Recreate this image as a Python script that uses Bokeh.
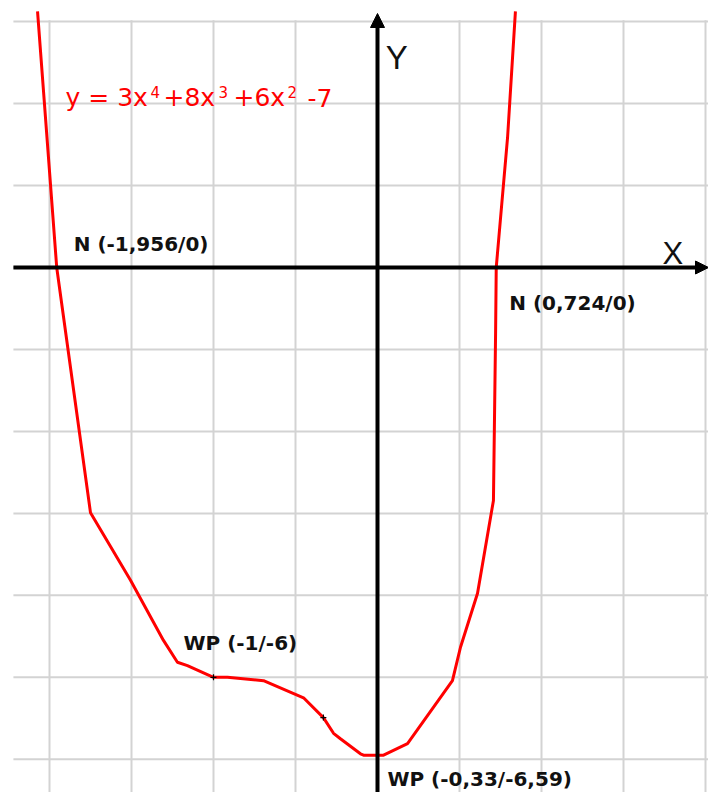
from bokeh.plotting import figure
from bokeh.models import Arrow, NormalHead, ColumnDataSource
from bokeh.core.properties import value
from bokeh.embed import file_html
from bokeh.resources import INLINE

# Curve y = 3x^4 + 8x^3 + 6x^2 - 7, as a polyline of points
curve_x = [-2.073, -1.956, -1.750, -1.506, -1.305, -1.220, -1.159, -1.0, -0.915,
           -0.695, -0.451, -0.33, -0.268, -0.226, -0.104, -0.085, 0.037, 0.183,
           0.457, 0.506, 0.610, 0.707, 0.720, 0.724, 0.793, 0.841]
curve_y = [3.75, 0.0, -3.59, -4.58, -5.46, -5.78, -5.83, -6.0, -6.00,
           -6.05, -6.30, -6.59, -6.82, -6.90, -7.12, -7.14, -7.14, -6.97,
           -6.05, -5.56, -4.77, -3.41, -0.97, 0.0, 1.90, 3.75]

# Zeros (N) and inflection points (WP)
root_x = [-1.956, 0.724]
root_y = [0.0, 0.0]
root_labels = ["N (-1,956/0)", "N (0,724/0)"]

wp_x = [-1.0, -0.33]
wp_y = [-6.0, -6.59]
wp_labels = ["WP (-1/-6)", "WP (-0,33/-6,59)"]

# Grid positions
grid_x = [-2.0, -1.5, -1.0, -0.5, 0.0, 0.5, 1.0, 1.5, 2.0]
grid_y = [3.6, 2.4, 1.2, 0.0, -1.2, -2.4, -3.6, -4.8, -6.0, -7.2]

# Formula pieces (normal text and superscripts)
formula_main = ["y = 3x", "+8x", "+6x", "-7"]
formula_sup = ["4", "3", "2"]

W, H = 708, 792
XU, YU = 164.0, 68.3          # pixels per unit
x_lo, x_hi = -377 / XU, (W - 377) / XU
y_lo, y_hi = -(H - 267) / YU, 267 / YU

p = figure(width=W, height=H, x_range=(x_lo, x_hi), y_range=(y_lo, y_hi),
           output_backend="svg", toolbar_location=None, min_border=0,
           background_fill_color="white", border_fill_color="white")
p.outline_line_color = None
p.xaxis.visible = False
p.yaxis.visible = False
p.xgrid.visible = False
p.ygrid.visible = False

grid_left = -2.22
grid_top = 3.62
grid_col = "#d3d3d3"
p.segment(x0=grid_x, y0=[grid_top] * len(grid_x), x1=grid_x, y1=[y_lo] * len(grid_x),
          line_color=grid_col, line_width=2)
p.segment(x0=[grid_left] * len(grid_y), y0=grid_y, x1=[x_hi] * len(grid_y), y1=grid_y,
          line_color=grid_col, line_width=2)

# Coordinate axes with arrow heads
p.add_layout(Arrow(x_start=grid_left, y_start=0, x_end=x_hi, y_end=0,
                   line_width=4, line_color="black",
                   end=NormalHead(size=13, fill_color="black", line_color="black", line_width=1)))
p.add_layout(Arrow(x_start=0, y_start=y_lo, x_end=0, y_end=(267 - 13) / YU,
                   line_width=4, line_color="black",
                   end=NormalHead(size=14, fill_color="black", line_color="black", line_width=1)))

p.text(x=[0.05], y=[(267 - 57) / YU], text=["Y"], text_font=value("Liberation Sans"),
       text_font_size="33px", text_color="#111111", text_baseline="alphabetic")
p.text(x=[(662 - 377) / XU], y=[(267 - 253) / YU], text=["X"], text_font=value("Liberation Sans"),
       text_font_size="31px", text_color="#111111", text_baseline="alphabetic")

# Curve
p.line(curve_x, curve_y, line_color="#ff0000", line_width=3)

# Inflection markers
p.scatter(wp_x, wp_y, marker="cross", size=6, line_color="black", line_width=1.2)

# Point labels
lab_font = value("DejaVu Sans")
p.text(x=root_x, y=root_y, text=root_labels, x_offset=[17, 13], y_offset=[-24, 35],
       text_font=lab_font, text_font_style="bold", text_font_size="20px",
       text_color="#111111", text_baseline="alphabetic")
p.text(x=wp_x, y=wp_y, text=wp_labels, x_offset=[-30, 64], y_offset=[-34, 61],
       text_font=lab_font, text_font_style="bold", text_font_size="20px",
       text_color="#111111", text_baseline="alphabetic")

# Formula
fx = (65 - 377) / XU
fy = (267 - 97) / YU
main_src = ColumnDataSource(dict(x=[fx] * 4, y=[fy] * 4, text=formula_main,
                                 dx=[0, 98, 168, 242]))
sup_src = ColumnDataSource(dict(x=[fx] * 3, y=[fy] * 3, text=formula_sup,
                                dx=[85, 153, 222]))
p.text(x="x", y="y", text="text", x_offset="dx", source=main_src,
       text_font=value("DejaVu Sans"), text_font_size="25px", text_color="#ff0000",
       text_baseline="alphabetic")
p.text(x="x", y="y", text="text", x_offset="dx", y_offset=-6, source=sup_src,
       text_font=value("DejaVu Sans"), text_font_size="15px", text_color="#ff0000",
       text_baseline="alphabetic")

open("out.html", "w").write(file_html(p, INLINE))
